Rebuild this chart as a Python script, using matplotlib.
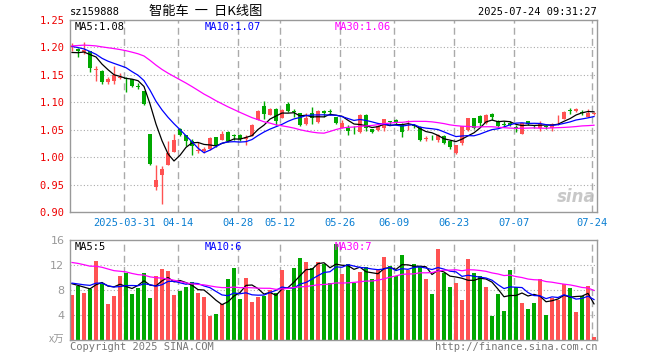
import numpy as np
import pandas as pd
import matplotlib.pyplot as plt

plt.rcParams['font.family'] = ['DejaVu Sans Mono', 'Noto Sans CJK SC']

# trading days shown (exchange holidays removed)
holidays = ['2025-04-04', '2025-05-01', '2025-05-02', '2025-05-05', '2025-06-02']
dates = [d for d in pd.bdate_range('2025-03-18', '2025-07-24')
         if d.strftime('%Y-%m-%d') not in holidays]

opens = [1.200, 1.197, 1.191, 1.193, 1.159, 1.157, 1.137, 1.139, 1.145, 1.145,
         1.142, 1.129, 1.120, 1.042, 0.946, 0.967, 0.986, 1.010, 1.052, 1.040,
         1.030, 1.011, 1.012, 1.015, 1.036, 1.032, 1.046, 1.039, 1.041, 1.033,
         1.039, 1.068, 1.094, 1.077, 1.088, 1.072, 1.096, 1.083, 1.080, 1.060,
         1.080, 1.064, 1.085, 1.083, 1.073, 1.054, 1.053, 1.048, 1.045, 1.077,
         1.051, 1.049, 1.053, 1.065, 1.068, 1.061, 1.064, 1.058, 1.055, 1.033,
         1.035, 1.032, 1.039, 1.029, 1.008, 1.025, 1.049, 1.071, 1.075, 1.062,
         1.079, 1.066, 1.060, 1.063, 1.054, 1.043, 1.065, 1.057, 1.054, 1.056,
         1.054, 1.067, 1.070, 1.085, 1.084, 1.082, 1.074, 1.079]
highs = [1.208, 1.199, 1.210, 1.194, 1.166, 1.158, 1.146, 1.166, 1.154, 1.146,
         1.143, 1.136, 1.121, 1.043, 0.986, 0.984, 1.029, 1.042, 1.053, 1.041,
         1.033, 1.027, 1.018, 1.037, 1.037, 1.047, 1.048, 1.043, 1.042, 1.041,
         1.060, 1.086, 1.103, 1.089, 1.089, 1.088, 1.101, 1.088, 1.081, 1.080,
         1.092, 1.086, 1.086, 1.088, 1.074, 1.067, 1.059, 1.056, 1.079, 1.078,
         1.052, 1.058, 1.070, 1.066, 1.069, 1.062, 1.067, 1.060, 1.056, 1.038,
         1.040, 1.043, 1.040, 1.030, 1.023, 1.057, 1.072, 1.072, 1.076, 1.078,
         1.080, 1.067, 1.065, 1.066, 1.058, 1.063, 1.066, 1.059, 1.065, 1.058,
         1.062, 1.077, 1.084, 1.090, 1.090, 1.086, 1.088, 1.082]
lows = [1.194, 1.182, 1.188, 1.156, 1.138, 1.133, 1.133, 1.133, 1.142, 1.119,
        1.127, 1.124, 1.095, 0.986, 0.941, 0.915, 0.985, 1.009, 1.038, 1.021,
        1.003, 1.007, 1.007, 1.013, 1.019, 1.031, 1.028, 1.032, 1.029, 1.023,
        1.038, 1.067, 1.070, 1.076, 1.058, 1.071, 1.082, 1.073, 1.056, 1.058,
        1.060, 1.063, 1.073, 1.076, 1.061, 1.053, 1.040, 1.042, 1.044, 1.048,
        1.044, 1.048, 1.048, 1.059, 1.060, 1.037, 1.050, 1.054, 1.030, 1.030,
        1.032, 1.027, 1.024, 1.015, 1.006, 1.023, 1.048, 1.052, 1.056, 1.061,
        1.068, 1.055, 1.055, 1.057, 1.046, 1.042, 1.058, 1.053, 1.047, 1.052,
        1.048, 1.059, 1.069, 1.079, 1.082, 1.077, 1.073, 1.077]
closes = [1.202, 1.193, 1.196, 1.162, 1.160, 1.137, 1.142, 1.150, 1.147, 1.142,
          1.130, 1.128, 1.097, 0.988, 0.958, 0.979, 1.008, 1.032, 1.040, 1.030,
          1.020, 1.012, 1.014, 1.035, 1.021, 1.043, 1.029, 1.038, 1.033, 1.037,
          1.059, 1.085, 1.078, 1.088, 1.065, 1.086, 1.084, 1.082, 1.059, 1.071,
          1.071, 1.085, 1.081, 1.082, 1.063, 1.062, 1.048, 1.047, 1.077, 1.053,
          1.045, 1.056, 1.069, 1.064, 1.062, 1.045, 1.065, 1.057, 1.031, 1.035,
          1.034, 1.041, 1.026, 1.019, 1.022, 1.056, 1.071, 1.054, 1.063, 1.077,
          1.073, 1.056, 1.059, 1.058, 1.053, 1.062, 1.060, 1.056, 1.060, 1.055,
          1.061, 1.068, 1.083, 1.084, 1.088, 1.081, 1.080, 1.080]
volumes = [7.2, 8.7, 7.6, 8.1, 12.6, 9.0, 5.8, 7.0, 10.2, 10.8,
           7.4, 8.3, 10.7, 6.7, 10.2, 11.4, 11.0, 7.2, 7.8, 8.5,
           9.3, 7.5, 6.9, 3.9, 4.2, 5.8, 9.8, 11.5, 6.6, 10.0,
           6.1, 6.9, 7.1, 8.0, 7.6, 11.2, 8.0, 11.5, 13.1, 12.5,
           11.5, 12.5, 12.2, 9.1, 15.4, 10.6, 12.2, 9.2, 10.9, 11.7,
           9.8, 11.4, 13.3, 11.8, 10.2, 13.6, 11.2, 12.2, 11.8, 9.8,
           7.4, 14.6, 10.8, 8.5, 9.1, 6.4, 13.0, 10.7, 10.2, 8.5,
           3.9, 7.4, 4.6, 11.2, 8.5, 5.9, 5.0, 5.9, 9.8, 4.0,
           6.7, 6.4, 8.9, 8.3, 4.5, 7.0, 8.6, 0.5]

# sessions before 03-18, estimated from where the MA lines start
prev_close = [1.170, 1.175, 1.180, 1.185, 1.190, 1.190, 1.195, 1.200, 1.205,
              1.210, 1.215, 1.220, 1.225, 1.220, 1.215, 1.210, 1.215, 1.220, 1.210, 1.213,
              1.215, 1.220, 1.210, 1.210, 1.210, 1.195, 1.190, 1.185, 1.182]
prev_vol = [13, 14, 15, 13, 14, 14, 15, 13, 13.8,
            15, 14, 13, 15, 14, 14, 15, 13, 14, 15, 14.2,
            10, 9, 9, 9, 9, 10, 9, 9.5, 9.3]

tick_dates = ['2025-03-31', '2025-04-14', '2025-04-28', '2025-05-12', '2025-05-26',
              '2025-06-09', '2025-06-23', '2025-07-07', '2025-07-24']

W, H = 660, 360
RED = '#ff5252'
GREEN = '#00a800'
GRID = '#aaaaaa'
ma_colors = {5: 'black', 10: '#0000ff', 30: '#ff00ff'}


def frac(x, y):
    return x / W, 1 - y / H


def moving_avg(prev, vals, n):
    s = pd.Series(list(prev) + list(vals)).rolling(n, 1).mean()
    return s.values[len(prev):]


x = np.arange(len(closes))
o, h, l, c = map(np.array, (opens, highs, lows, closes))
up = c > o
cols = np.where(up, RED, GREEN)
date_str = [d.strftime('%Y-%m-%d') for d in dates]
tick_pos = [date_str.index(t) - 1 / 3 for t in tick_dates]
tick_lab = [tick_dates[0]] + [t[5:] for t in tick_dates[1:]]

fig = plt.figure(figsize=(6.6, 3.6), dpi=100)
ax = fig.add_axes([70 / W, (H - 212) / H, 527 / W, 192 / H])
axv = fig.add_axes([70 / W, (H - 340) / H, 527 / W, 100 / H])

for a in (ax, axv):
    a.set_xlim(-1 / 3, 87.5)
    for s in a.spines.values():
        s.set_color('#999999')
        s.set_linewidth(1)
    for p in tick_pos:
        a.axvline(p, color=GRID, lw=1, ls=(0, (5, 3)), zorder=0)

# price panel
for lv in [0.95, 1.00, 1.05, 1.10, 1.15, 1.20]:
    ax.axhline(lv, color=GRID, lw=0.8, ls=(0, (1, 2)), zorder=0)
ax.vlines(x, l, h, colors=cols, lw=1, zorder=2)
body = np.maximum(np.abs(c - o), 0.0015)
ax.bar(x, body, bottom=np.minimum(o, c), width=0.75, color=cols, zorder=3)
for n in (5, 10, 30):
    ax.plot(x, moving_avg(prev_close, closes, n), color=ma_colors[n], lw=0.9, zorder=4)
ax.set_ylim(0.90, 1.25)
ax.set_yticks(np.arange(0.90, 1.251, 0.05))
ax.set_yticklabels(['%.2f' % v for v in np.arange(0.90, 1.251, 0.05)])
ax.tick_params(axis='y', length=0, pad=4, labelsize=7.5, labelcolor='#ee0000')
ax.set_xticks(tick_pos)
ax.set_xticklabels(tick_lab)
ax.tick_params(axis='x', length=0, pad=4, labelsize=7.5, labelcolor='#0a7ed2')

# volume panel
for lv in [4, 8, 12]:
    axv.axhline(lv, color=GRID, lw=0.8, ls=(0, (1, 2)), zorder=0)
axv.bar(x, volumes, width=0.83, color=cols, zorder=2)
for n in (5, 10, 30):
    axv.plot(x, moving_avg(prev_vol, volumes, n), color=ma_colors[n], lw=0.9, zorder=4)
axv.set_ylim(0, 16)
axv.set_yticks([4, 8, 12, 16])
axv.set_yticklabels(['4', '8', '12', '16'], family='DejaVu Sans')
axv.tick_params(axis='y', length=0, pad=4, labelsize=8, labelcolor='#999999')
axv.set_xticks([])

# header
fig.text(*frac(70, 12), 'sz159888', ha='left', va='center', size=7.5)
fig.text(*frac(206, 12), '智能车  一  日K线图', ha='center', va='center', size=9.5,
         family=['Noto Sans CJK SC', 'DejaVu Sans'])
fig.text(*frac(597, 12), '2025-07-24 09:31:27', ha='right', va='center', size=7.5)

# MA legends
fig.text(*frac(75, 27), 'MA5:%.2f' % moving_avg(prev_close, closes, 5)[-1],
         color='black', va='center', size=7.5)
fig.text(*frac(205, 27), 'MA10:%.2f' % moving_avg(prev_close, closes, 10)[-1],
         color='#0000ff', va='center', size=7.5)
fig.text(*frac(335, 27), 'MA30:%.2f' % moving_avg(prev_close, closes, 30)[-1],
         color='#ff00ff', va='center', size=7.5)
fig.text(*frac(75, 247), 'MA5:%d' % int(moving_avg(prev_vol, volumes, 5)[-1]),
         color='black', va='center', size=7.5)
fig.text(*frac(205, 247), 'MA10:%d' % int(moving_avg(prev_vol, volumes, 10)[-1]),
         color='#0000ff', va='center', size=7.5)
fig.text(*frac(335, 247), 'MA30:%d' % int(moving_avg(prev_vol, volumes, 30)[-1]),
         color='#ff00ff', va='center', size=7.5)

# footer and watermark
fig.text(*frac(64, 340), 'x万', ha='right', va='center', size=7.5, color='#999999',
         family=['Noto Sans CJK SC', 'DejaVu Sans'], style='italic')
fig.text(*frac(70, 347), 'Copyright 2025 SINA.COM', va='center', size=7.5, color='#777777')
fig.text(*frac(597, 347), 'http://finance.sina.com.cn', ha='right', va='center',
         size=7.5, color='#777777')
fig.text(*frac(596, 197), 'sina', ha='right', va='center', size=12, color='#bbbbbb',
         family='DejaVu Sans', weight='bold', style='italic', alpha=0.8)

fig.savefig('out.png', dpi=100)
